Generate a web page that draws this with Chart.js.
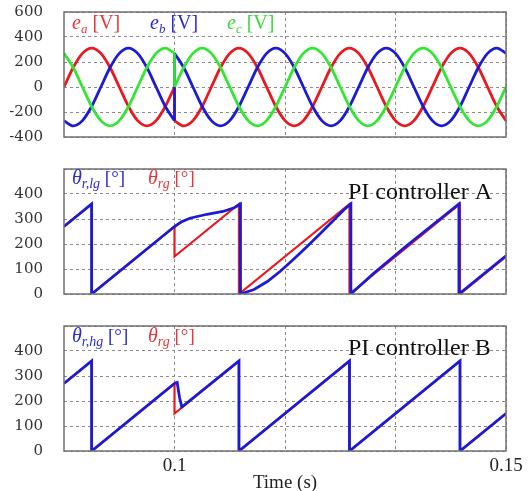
<!DOCTYPE html>
<html><head><meta charset="utf-8">
<script src="https://cdn.jsdelivr.net/npm/chart.js@4.4.1/dist/chart.umd.min.js"></script>
<style>
html,body{margin:0;padding:0;background:#fff;width:530px;height:491px;overflow:hidden}
canvas{position:absolute;left:0}
</style></head><body>
<canvas id="c1" width="530" height="150" style="top:0px"></canvas>
<canvas id="c2" width="530" height="150" style="top:155px"></canvas>
<canvas id="c3" width="530" height="184" style="top:310px"></canvas>
<script>
// ---- data ----
const timeV = [0.08333,0.08472,0.08611,0.08750,0.08889,0.09028,0.09167,0.09306,0.09444,0.09583,0.09722,0.09861,0.10000,
  0.10000,0.10139,0.10278,0.10417,0.10556,0.10694,0.10833,0.10972,0.11111,0.11250,0.11389,0.11528,0.11667,
  0.11806,0.11944,0.12083,0.12222,0.12361,0.12500,0.12639,0.12778,0.12917,0.13056,0.13194,0.13333,
  0.13472,0.13611,0.13750,0.13889,0.14028,0.14167,0.14306,0.14444,0.14583,0.14722,0.14861,0.15000];
const eA = [0,156,269,311,269,156,0,-156,-269,-311,-269,-156,0,
  -269,-311,-269,-156,0,156,269,311,269,156,0,-156,
  -269,-311,-269,-156,0,156,269,311,269,156,0,-156,
  -269,-311,-269,-156,0,156,269,311,269,156,0,-156,-269];
const eB = [-269,-311,-269,-156,0,156,269,311,269,156,0,-156,-269,
  269,156,0,-156,-269,-311,-269,-156,0,156,269,311,
  269,156,0,-156,-269,-311,-269,-156,0,156,269,311,
  269,156,0,-156,-269,-311,-269,-156,0,156,269,311,269];
const eC = [269,156,0,-156,-269,-311,-269,-156,0,156,269,311,269,
  0,156,269,311,269,156,0,-156,-269,-311,-269,-156,
  0,156,269,311,269,156,0,-156,-269,-311,-269,-156,
  0,156,269,311,269,156,0,-156,-269,-311,-269,-156,0];

const thRefT = [0.08333,0.08750,0.08750,0.10000,0.10000,0.10972,0.10972,0.12639,0.12639,0.14306,0.14306,0.15000];
const thRefV = [270,360,0,270,150,360,0,360,0,360,0,150];

const thAT = [0.08333,0.08750,0.08750,0.10000,0.10100,0.10230,0.10490,0.10730,0.10900,0.10995,0.10995,
  0.11200,0.11400,0.11600,0.11800,0.12000,0.12200,0.12400,0.12560,0.12660,0.12660,
  0.13000,0.13500,0.14000,0.14290,0.14290,0.15000];
const thAV = [270,360,0,270,288,303,319,330,345,360,0,
  18,50,92,140,190,242,295,338,360,0,
  82,193,299,360,0,153];

const thBT = [0.08333,0.08750,0.08750,0.10000,0.10040,0.10075,0.10110,0.10972,0.10972,0.12639,0.12639,0.14306,0.14306,0.15000];
const thBV = [270,360,0,270,274,215,176,360,0,360,0,360,0,150];

const xMin = 0.08333, xMax = 0.15;
const xTickVals = [0.1, 0.116667, 0.133333, 0.15];
const xTickLabels = ['0.1', '', '', '0.15'];
const yTicks1 = [-400, -200, 0, 200, 400, 600];
const yLabels1 = ['-400', '-200', '0', '200', '400', '600'];
const yTicks2 = [0, 100, 200, 300, 400, 500];
const yLabels2 = ['0', '100', '200', '300', '400', ''];

// ---- styles ----
const RED = '#e8191f', BLUE = '#1b1bd4', GREEN = '#33e633';
const RED_T = '#e23a3a', BLUE_T = '#2a2ad0', GREEN_T = '#3ad83a';

function pts(ts, vs){ return ts.map((t,i)=>({x:t, y:vs[i]})); }
function splitJumps(ts, vs){
  const segs=[[]], jumps=[];
  for(let i=0;i<ts.length;i++){
    if(i>0 && ts[i]===ts[i-1]){
      jumps.push([{x:ts[i-1],y:vs[i-1]},{x:ts[i],y:vs[i]}]);
      segs.push([]);
    }
    segs[segs.length-1].push({x:ts[i],y:vs[i]});
  }
  return {segs, jumps};
}

const frame = {id:'frame', afterDatasetsDraw(c){
  const a=c.chartArea, x=c.ctx; x.save(); x.strokeStyle='#707070'; x.lineWidth=1.5;
  x.strokeRect(a.left, a.top, a.right-a.left, a.bottom-a.top); x.restore();
}};

function textPlugin(items){
  return {id:'txt', afterDraw(c){
    const ctx=c.ctx; ctx.save(); ctx.textBaseline='alphabetic'; ctx.textAlign='left';
    items.forEach(it=>{
      let x=it.x;
      it.runs.forEach(r=>{
        ctx.font=r.f; ctx.fillStyle=r.c;
        ctx.fillText(r.t, x, it.y+(r.dy||0));
        x+=ctx.measureText(r.t).width;
      });
    });
    ctx.restore();
  }};
}

function opts(yMin, yMax, yVals, yLabs, pad, showX){
  return {
    responsive:false, animation:false, devicePixelRatio:1,
    layout:{padding:pad, autoPadding:false},
    plugins:{legend:{display:false}, tooltip:{enabled:false}},
    elements:{point:{radius:0}},
    scales:{
      x:{type:'linear', min:xMin, max:xMax,
        afterBuildTicks:s=>{s.ticks=xTickVals.map(v=>({value:v}));},
        afterFit:s=>{s.height = showX?43:0; s.paddingLeft=0; s.paddingRight=0;},
        grid:{color:'#8c8c8c', lineWidth:1, drawTicks:false},
        border:{display:false, dash:[3,3]},
        ticks:{display:showX, autoSkip:false, maxRotation:0, padding:4,
          callback:(v,i)=>xTickLabels[i],
          font:{family:'Liberation Serif', size:19}, color:'#222'},
        title:{display:showX, text:'Time (s)', color:'#222',
          font:{family:'Liberation Serif', size:19, lineHeight:1}, padding:{top:0,bottom:1}}
      },
      y:{type:'linear', min:yMin, max:yMax,
        afterBuildTicks:s=>{s.ticks=yVals.map(v=>({value:v}));},
        afterFit:s=>{s.width=64; s.paddingTop=0; s.paddingBottom=0;},
        grid:{color:'#8c8c8c', lineWidth:1, drawTicks:false},
        border:{display:false, dash:[3,3]},
        ticks:{padding:21, autoSkip:false, callback:(v,i)=>yLabs[i],
          font:{family:'DejaVu Serif', size:15}, color:'#333'}
      }
    }
  };
}

// ---- chart 1 ----
const ds1=[];
[[eC,GREEN],[eB,BLUE],[eA,RED]].forEach(([vals,col])=>{
  const {segs,jumps}=splitJumps(timeV, vals);
  jumps.forEach(j=>ds1.push({data:j, borderColor:col, borderWidth:2.6, tension:0, pointRadius:0}));
  segs.forEach(s=>ds1.push({data:s, borderColor:col, borderWidth:2.8, cubicInterpolationMode:'monotone', pointRadius:0}));
});
const IT='italic 20px "Liberation Serif"', SUB='italic 13px "Liberation Serif"', RM='20px "Liberation Serif"';
new Chart(document.getElementById('c1'), {type:'line', data:{datasets:ds1},
  options:opts(-400,600,yTicks1,yLabels1,{top:12,bottom:13,left:0,right:24},false),
  plugins:[frame, textPlugin([
    {x:72,y:29,runs:[{t:'e',f:IT,c:RED_T},{t:'a',f:SUB,c:RED_T,dy:4},{t:' [V]',f:RM,c:RED_T}]},
    {x:150,y:29,runs:[{t:'e',f:IT,c:BLUE_T},{t:'b',f:SUB,c:BLUE_T,dy:4},{t:' [V]',f:RM,c:BLUE_T}]},
    {x:227,y:29,runs:[{t:'e',f:IT,c:GREEN_T},{t:'c',f:SUB,c:GREEN_T,dy:4},{t:' [V]',f:RM,c:GREEN_T}]}
  ])]});

// ---- chart 2 & 3 ----
const TH='italic 20px "Liberation Serif"', TS='italic 14px "Liberation Serif"', TR='19px "Liberation Serif"';
const PI='24px "Liberation Serif"';
function thetaChart(id, bT, bV, sub, piText, base, piBase, pad, showX){
  new Chart(document.getElementById(id), {type:'line',
    data:{datasets:[
      {data:pts(bT,bV), borderColor:BLUE, borderWidth:2.8, tension:0, pointRadius:0},
      {data:pts(thRefT,thRefV), borderColor:RED, borderWidth:2.2, tension:0, pointRadius:0}
    ]},
    options:opts(0,500,yTicks2,yLabels2,pad,showX),
    plugins:[frame, textPlugin([
      {x:72,y:base,runs:[{t:'θ',f:TH,c:BLUE_T},{t:sub,f:TS,c:BLUE_T,dy:4},{t:' [°]',f:TR,c:BLUE_T}]},
      {x:148,y:base,runs:[{t:'θ',f:TH,c:RED_T},{t:'rg',f:TS,c:RED_T,dy:4},{t:' [°]',f:TR,c:RED_T}]},
      {x:348,y:piBase,runs:[{t:piText,f:PI,c:'#111'}]}
    ])]});
}
thetaChart('c2', thAT, thAV, 'r,lg', 'PI controller A', 29, 43.5, {top:14,bottom:11,left:0,right:24}, false);
thetaChart('c3', thBT, thBV, 'r,hg', 'PI controller B', 32, 45, {top:16,bottom:0,left:0,right:24}, true);
</script>
</body></html>
